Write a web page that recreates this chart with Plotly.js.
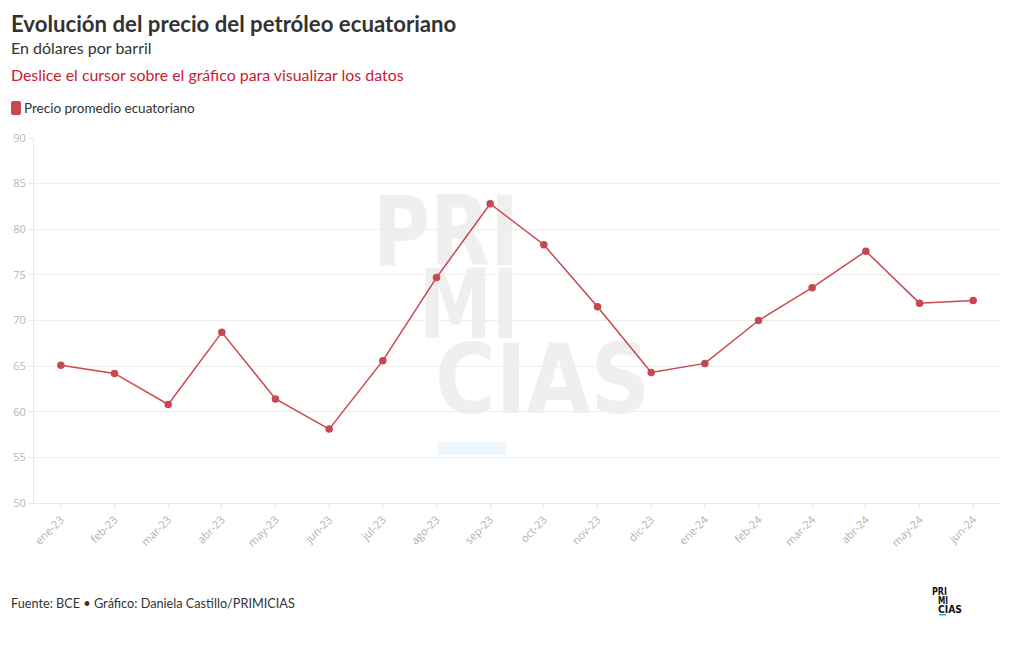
<!DOCTYPE html>
<html>
<head>
<meta charset="utf-8">
<script src="https://cdn.plot.ly/plotly-3.0.1.min.js"></script>
<style>
  html, body { margin: 0; padding: 0; background: #fff; }
  #chart { width: 1020px; height: 650px; }
</style>
</head>
<body>
<div id="chart"></div>
<script>
// ---- Data ----
const months = ["ene-23","feb-23","mar-23","abr-23","may-23","jun-23","jul-23","ago-23","sep-23",
                "oct-23","nov-23","dic-23","ene-24","feb-24","mar-24","abr-24","may-24","jun-24"];
const precio = [65.1, 64.2, 60.8, 68.7, 61.4, 58.1, 65.6, 74.7, 82.8,
                78.3, 71.5, 64.3, 65.3, 70.0, 73.6, 77.6, 71.9, 72.2];
const yTicks = [50, 55, 60, 65, 70, 75, 80, 85, 90];
const seriesName = "Precio promedio ecuatoriano";
const titleText = "Evolución del precio del petróleo ecuatoriano";
const subtitleText = "En dólares por barril";
const hintText = "Deslice el cursor sobre el gráfico para visualizar los datos";
const sourceText = "Fuente: BCE • Gráfico: Daniela Castillo/PRIMICIAS";

// ---- Layout helpers (pixel -> paper) ----
const W = 1020, H = 650;
const M = {l: 34, r: 20, t: 138, b: 147};
const PW = W - M.l - M.r, PH = H - M.t - M.b;
const px = x => (x - M.l) / PW;
const py = y => (H - M.b - y) / PH;

const lineColor = "#c9474e";
const font = "Lato, 'Source Sans Pro', 'Noto Sans', sans-serif";

// Watermark SVG
const wm = `<svg xmlns="http://www.w3.org/2000/svg" width="300" height="270" viewBox="0 0 300 270">
<g fill="#efefef" font-family="DejaVu Sans, sans-serif" font-weight="bold" font-size="96">
<text x="8" y="75" textLength="146" lengthAdjust="spacingAndGlyphs">PRI</text>
<text x="54" y="148" textLength="100" lengthAdjust="spacingAndGlyphs">MI</text>
<text x="70" y="223" textLength="215" lengthAdjust="spacingAndGlyphs">CIAS</text>
</g>
<rect x="73" y="252" width="68" height="13" fill="#eef6fd"/>
</svg>`;

const logo = `<svg xmlns="http://www.w3.org/2000/svg" width="40" height="34" viewBox="0 0 40 34">
<g fill="#111" font-family="DejaVu Sans, sans-serif" font-weight="bold" font-size="10">
<text x="4" y="11" textLength="15" lengthAdjust="spacingAndGlyphs">PRI</text>
<text x="10" y="20" textLength="10" lengthAdjust="spacingAndGlyphs">MI</text>
<text x="10" y="29" textLength="24" lengthAdjust="spacingAndGlyphs">CIAS</text>
</g>
<rect x="11" y="30" width="7" height="1.5" fill="#3aa7e0"/>
</svg>`;

const svgUri = s => "data:image/svg+xml;charset=utf-8," + encodeURIComponent(s);

const trace = {
  type: "scatter",
  mode: "lines+markers",
  x: months,
  y: precio,
  name: seriesName,
  line: {color: lineColor, width: 1.5},
  marker: {color: lineColor, size: 7.5},
  hovertemplate: "%{x}: %{y:.2f}<extra></extra>",
  showlegend: false
};

// rounded legend swatch
const sx0 = px(11), sx1 = px(21), sy0 = py(115), sy1 = py(101);
const rx = 2 / PW, ry = 2 / PH;
const swatchPath = `M ${sx0+rx} ${sy0} L ${sx1-rx} ${sy0} Q ${sx1} ${sy0} ${sx1} ${sy0+ry} L ${sx1} ${sy1-ry} Q ${sx1} ${sy1} ${sx1-rx} ${sy1} L ${sx0+rx} ${sy1} Q ${sx0} ${sy1} ${sx0} ${sy1-ry} L ${sx0} ${sy0+ry} Q ${sx0} ${sy0} ${sx0+rx} ${sy0} Z`;

const layout = {
  width: W, height: H,
  margin: M,
  paper_bgcolor: "#fff",
  plot_bgcolor: "#fff",
  font: {family: font, color: "#333"},
  showlegend: false,
  xaxis: {
    type: "category",
    range: [-0.5, months.length - 0.5],
    tickangle: -45,
    tickfont: {family: "'Open Sans', sans-serif", size: 11, color: "#b0b0b0"},
    showgrid: false,
    showline: true,
    linecolor: "#e8e8e8",
    ticks: "outside",
    ticklen: 5,
    tickcolor: "#e8e8e8",
    zeroline: false,
    fixedrange: true
  },
  yaxis: {
    range: [50, 90],
    tickvals: yTicks,
    tickfont: {family: "'Open Sans', sans-serif", size: 11, color: "#b8b8b8"},
    showgrid: true,
    gridcolor: "#eeeeee",
    showline: true,
    linecolor: "#e8e8e8",
    ticks: "outside",
    ticklen: 5,
    tickcolor: "#e8e8e8",
    zeroline: false,
    fixedrange: true
  },
  images: [
    {source: svgUri(wm), xref: "paper", yref: "paper", x: px(365), y: py(190),
     sizex: 300 / PW, sizey: 270 / PH, xanchor: "left", yanchor: "top",
     sizing: "stretch", layer: "below"},
    {source: svgUri(logo), xref: "paper", yref: "paper", x: px(928), y: py(584),
     sizex: 40 / PW, sizey: 34 / PH, xanchor: "left", yanchor: "top",
     sizing: "stretch", layer: "above"}
  ],
  shapes: [
    {type: "path", xref: "paper", yref: "paper", path: swatchPath,
     fillcolor: lineColor, line: {width: 0}}
  ],
  annotations: [
    {text: "<b>" + titleText + "</b>", xref: "paper", yref: "paper", x: px(9), y: py(24),
     xanchor: "left", yanchor: "middle", showarrow: false,
     font: {family: font, size: 22.2, color: "#333"}},
    {text: subtitleText, xref: "paper", yref: "paper", x: px(9), y: py(47),
     xanchor: "left", yanchor: "middle", showarrow: false,
     font: {family: font, size: 16, color: "#333"}},
    {text: hintText, xref: "paper", yref: "paper", x: px(9), y: py(75),
     xanchor: "left", yanchor: "middle", showarrow: false,
     font: {family: font, size: 15.9, color: "#c8202f"}},
    {text: seriesName, xref: "paper", yref: "paper", x: px(22), y: py(108),
     xanchor: "left", yanchor: "middle", showarrow: false,
     font: {family: font, size: 13.5, color: "#333"}},
    {text: sourceText, xref: "paper", yref: "paper", x: px(9), y: py(603),
     xanchor: "left", yanchor: "middle", showarrow: false,
     font: {family: font, size: 12.7, color: "#333"}}
  ]
};

Plotly.newPlot("chart", [trace], layout, {displayModeBar: false, responsive: false});
</script>
</body>
</html>
